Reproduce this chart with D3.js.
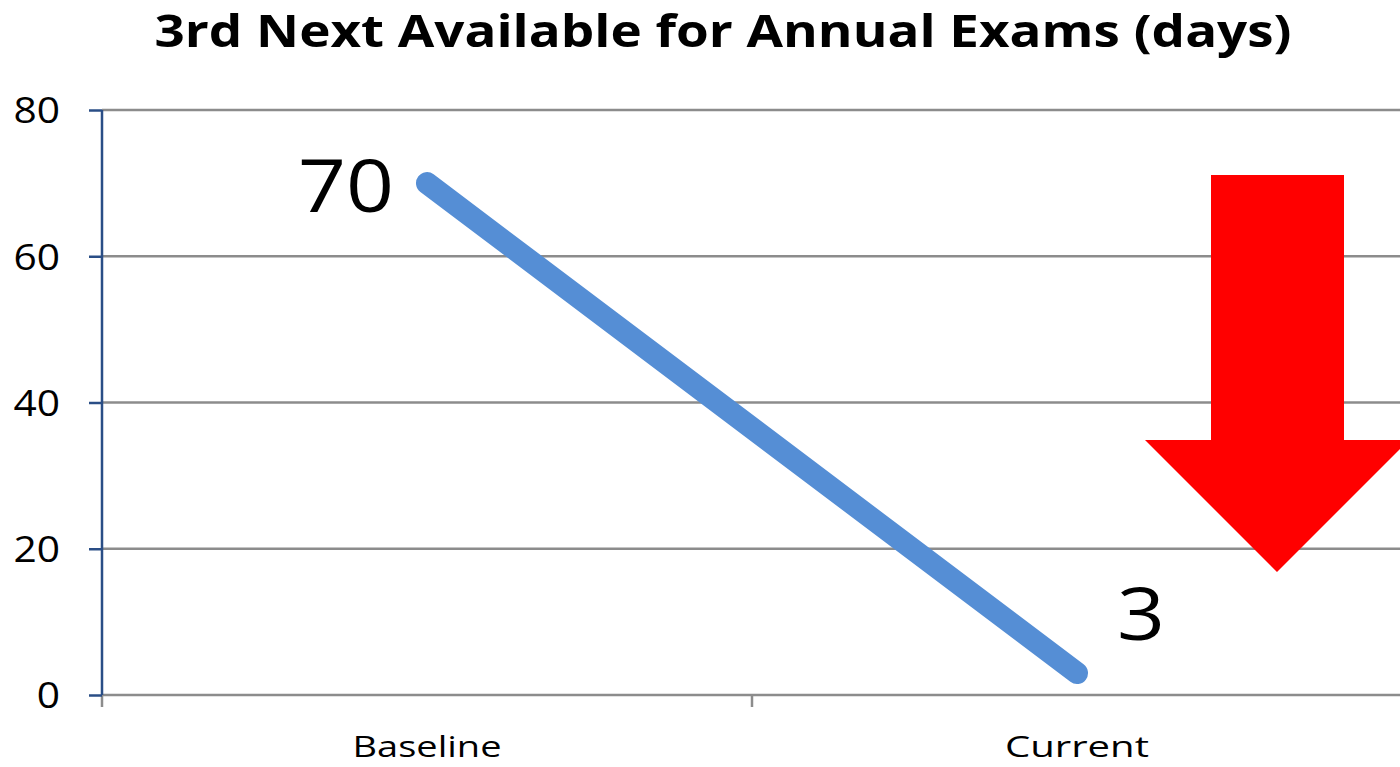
<!DOCTYPE html>
<html>
<head>
<meta charset="utf-8">
<script src="https://cdn.jsdelivr.net/npm/d3@7"></script>
<style>
  html, body { margin: 0; padding: 0; background: #fff; overflow: hidden; }
  svg { display: block; font-family: "Open Sans", "DejaVu Sans", sans-serif; }
</style>
</head>
<body>
<svg id="chart" width="1400" height="767"></svg>
<script>
// Chart data
const categories = ["Baseline", "Current"];
const values = [70, 3];
const yTicks = [0, 20, 40, 60, 80];
const title = "3rd Next Available for Annual Exams (days)";

const svg = d3.select("#chart");
const W = 1400, H = 767;
const margin = { left: 102, right: -2, top: 110, bottom: 72 };

const x = d3.scaleBand()
  .domain(categories)
  .range([margin.left, W - margin.right])
  .paddingInner(0).paddingOuter(0);

const y = d3.scaleLinear()
  .domain([0, 80])
  .range([H - margin.bottom, margin.top]);

// Title
svg.append("text")
  .attr("x", 723).attr("y", 47)
  .attr("text-anchor", "middle")
  .attr("font-weight", "bold")
  .attr("font-size", 45)
  .attr("textLength", 1137)
  .attr("lengthAdjust", "spacingAndGlyphs")
  .text(title);

// Horizontal gridlines
svg.append("g").selectAll("line")
  .data(yTicks)
  .join("line")
  .attr("x1", margin.left).attr("x2", W)
  .attr("y1", d => y(d)).attr("y2", d => y(d))
  .attr("stroke", "#8c8c8c").attr("stroke-width", 2.5);

// X axis category tick marks (band edges)
const edges = categories.map(c => x(c)).concat([x(categories[categories.length - 1]) + x.bandwidth()]);
svg.append("g").selectAll("line")
  .data(edges)
  .join("line")
  .attr("x1", d => d).attr("x2", d => d)
  .attr("y1", y(0)).attr("y2", y(0) + 12)
  .attr("stroke", "#8c8c8c").attr("stroke-width", 2.5);

// Y axis
const yAxis = d3.axisLeft(y).tickValues(yTicks).tickSize(13).tickPadding(28);
const yg = svg.append("g")
  .attr("transform", `translate(${margin.left},0)`)
  .call(yAxis);
yg.select(".domain").attr("stroke", "#2a4e86").attr("stroke-width", 2.5)
  .attr("d", `M0,${y(80)}V${y(0)}`);
yg.selectAll(".tick line").attr("stroke", "#2a4e86").attr("stroke-width", 2.5);
const tickScale = 1.1;
yg.selectAll(".tick text")
  .attr("font-size", 37)
  .attr("font-family", "Open Sans, sans-serif")
  .attr("fill", "#000")
  .attr("dy", "0.35em")
  .attr("transform", `scale(${tickScale},1)`)
  .attr("x", -42 / tickScale);

// X category labels
svg.append("g").selectAll("text")
  .data(categories)
  .join("text")
  .attr("x", d => x(d) + x.bandwidth() / 2)
  .attr("y", 757)
  .attr("text-anchor", "middle")
  .attr("font-size", 30)
  .attr("textLength", (d, i) => i === 0 ? 149 : 144)
  .attr("lengthAdjust", "spacingAndGlyphs")
  .text(d => d);

// Series line
const pts = categories.map((c, i) => [x(c) + x.bandwidth() / 2, y(values[i])]);
svg.append("path")
  .attr("d", d3.line()(pts))
  .attr("fill", "none")
  .attr("stroke", "#558ed5")
  .attr("stroke-width", 22)
  .attr("stroke-linecap", "round");

// Value labels
const valScale = 1.15;
svg.append("text")
  .attr("transform", `translate(${pts[0][0] - 33},${pts[0][1] + 29}) scale(${valScale},1)`)
  .attr("text-anchor", "end")
  .attr("font-size", 73)
  .text(values[0]);
svg.append("text")
  .attr("transform", `translate(${pts[1][0] + 40},${pts[1][1] - 33}) scale(${valScale},1)`)
  .attr("text-anchor", "start")
  .attr("font-size", 73)
  .text(values[1]);

// Red down arrow
const arrow = [[1211, 175], [1344, 175], [1344, 440], [1409, 440], [1277, 572], [1145, 440], [1211, 440]];
svg.append("polygon")
  .attr("points", arrow.map(p => p.join(",")).join(" "))
  .attr("fill", "#ff0000");
</script>
</body>
</html>
